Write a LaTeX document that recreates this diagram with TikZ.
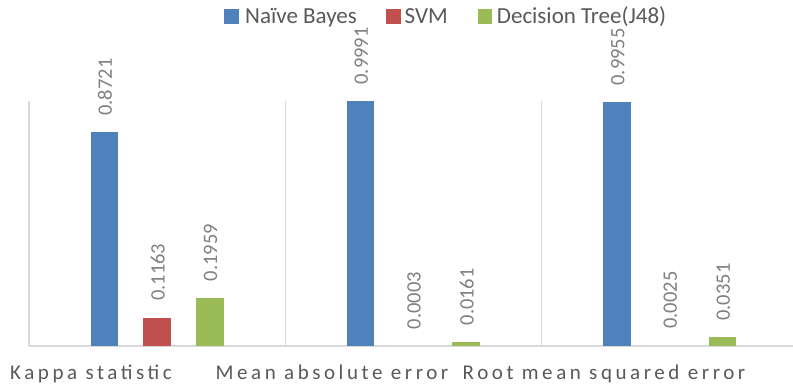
\documentclass[tikz,border=0pt]{standalone}
\usepackage{fontspec}
\setmainfont{Carlito}
\newfontfamily\catfont[LetterSpace=17]{Carlito}
\definecolor{nbblue}{HTML}{4F81BD}
\definecolor{svmred}{HTML}{C0504D}
\definecolor{dtgreen}{HTML}{9BBB59}
\definecolor{gridgray}{HTML}{D9D9D9}
\definecolor{labelgray}{HTML}{808080}
\definecolor{textgray}{HTML}{595959}

\begin{document}
\begin{tikzpicture}[x=1pt,y=-1pt,
  valuelabel/.style={rotate=90,anchor=west,inner sep=0pt,text=labelgray,
    font=\fontsize{20.5}{24}\selectfont},
  catlabel/.style={anchor=base,inner sep=0pt,text=textgray,
    font=\fontsize{21}{25}\catfont},
  legendtext/.style={anchor=base west,inner sep=0pt,text=textgray,
    font=\fontsize{23}{27}\selectfont},
  legendkey/.style={minimum size=14.5pt,inner sep=0pt,anchor=north west},
  axisline/.style={draw=gridgray,line width=1.5pt}]
  \useasboundingbox (0,0) rectangle (793,387);

  % category separators and baseline
  \draw[axisline] (29,101) -- (29,346);
  \draw[axisline] (285.3,101) -- (285.3,346);
  \draw[axisline] (541.7,101) -- (541.7,346);
  \draw[axisline] (29,346) -- (793,346);

  % bars: 245 units per 1.0, baseline at 346 (bars under one unit tall are left out)
  \foreach \nm/\xl/\v/\col in {
      kb/90.5/0.8721/nbblue, ks/143.2/0.1163/svmred, kd/196/0.1959/dtgreen,
      mb/346.8/0.9991/nbblue, ms/399.5/0.0003/svmred, md/452.3/0.0161/dtgreen,
      rb/603.2/0.9955/nbblue, rs/655.9/0.0025/svmred, rd/708.7/0.0351/dtgreen}
  {
    \pgfmathsetmacro\bartop{346-245*\v}
    \pgfmathparse{245*\v>1 ? 1 : 0}
    \ifnum\pgfmathresult=1
      \fill[\col] (\xl,346) rectangle (\xl+27.5,\bartop);
    \fi
    \node[valuelabel] (\nm-lbl) at (\xl+14.5,\bartop-16.5) {\v};
  }

  % legend
  \node[legendkey,fill=nbblue] (keynb) at (224,9) {};
  \node[legendtext] (txtnb) at (245,23.3) {Naïve Bayes};
  \node[legendkey,fill=svmred] (keysvm) at (386,9) {};
  \node[legendtext] (txtsvm) at (404.5,23.3) {SVM};
  \node[legendkey,fill=dtgreen] (keydt) at (477.3,9) {};
  \node[legendtext] (txtdt) at (496.7,23.3) {Decision Tree(J48)};

  % category labels
  \node[catlabel] (catk) at (91,379.5) {Kappa statistic};
  \node[catlabel] (catm) at (332,379.5) {Mean absolute error};
  \node[catlabel] (catr) at (604,379.5) {Root mean squared error};
\end{tikzpicture}
\end{document}
